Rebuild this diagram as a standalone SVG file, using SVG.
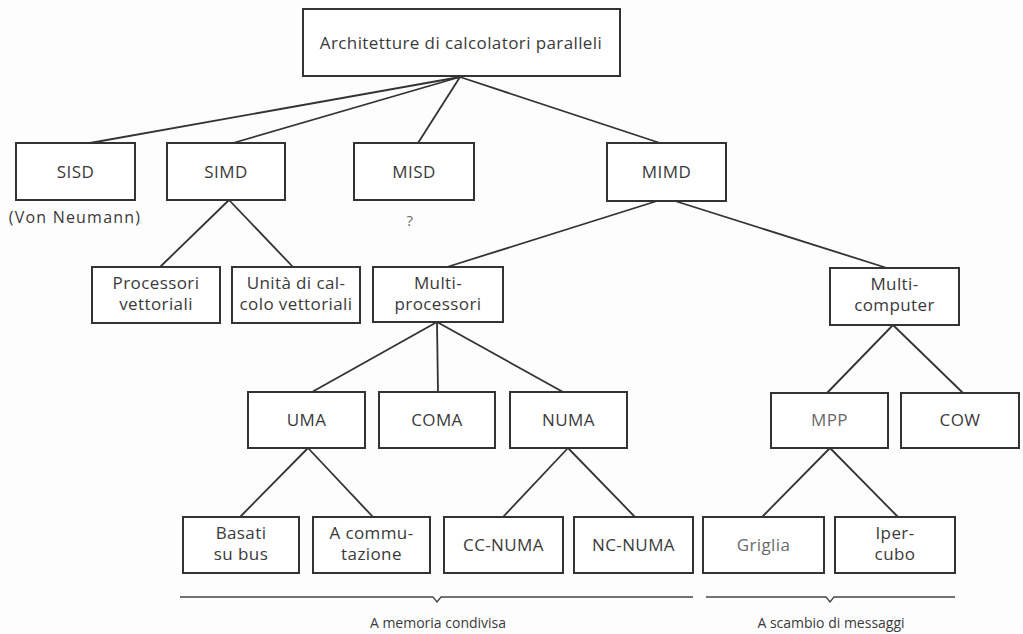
<svg xmlns="http://www.w3.org/2000/svg" width="1023" height="634" viewBox="0 0 1023 634">
<style>
.box{fill:#fff;stroke:#333;stroke-width:2}
.t{font-family:"Open Sans","Liberation Sans",sans-serif;font-size:17px;letter-spacing:0.4px;fill:#3a3a3a;text-anchor:middle}
.lt{fill:#6a6a6a}
.sm{font-size:14px;letter-spacing:0}
.c line{stroke:#333;stroke-width:1.8}
.br{fill:none;stroke:#444;stroke-width:1.3}
</style>
<rect width="1023" height="634" fill="#fdfdfd"/>
<g class="c" id="connectors">
<line x1="460" y1="77" x2="90" y2="143"/>
<line x1="460" y1="77" x2="233" y2="143"/>
<line x1="460" y1="77" x2="418" y2="143"/>
<line x1="460" y1="77" x2="660" y2="143"/>
<line x1="229" y1="200" x2="160" y2="267"/>
<line x1="229" y1="200" x2="293" y2="267"/>
<line x1="657" y1="201" x2="447" y2="267"/>
<line x1="675" y1="201" x2="887" y2="268"/>
<line x1="437" y1="322" x2="312" y2="392"/>
<line x1="437" y1="322" x2="438" y2="392"/>
<line x1="437" y1="322" x2="563" y2="392"/>
<line x1="893" y1="325" x2="827" y2="393"/>
<line x1="893" y1="325" x2="963" y2="393"/>
<line x1="308" y1="448" x2="240" y2="517"/>
<line x1="308" y1="448" x2="373" y2="517"/>
<line x1="568" y1="448" x2="503" y2="517"/>
<line x1="568" y1="448" x2="635" y2="517"/>
<line x1="830" y1="448" x2="762" y2="517"/>
<line x1="830" y1="448" x2="898" y2="517"/>
</g>
<g id="root"><rect class="box" x="303" y="9" width="317" height="67"/><text class="t" x="461" y="49">Architetture di calcolatori paralleli</text></g>
<g id="sisd"><rect class="box" x="16" y="143" width="119" height="57"/><text class="t" x="75.5" y="178">SISD</text></g>
<g id="sisd-note"><text class="t" x="75" y="223" style="font-size:16px;letter-spacing:1.2px">(Von Neumann)</text></g>
<g id="simd"><rect class="box" x="167" y="143" width="118" height="57"/><text class="t" x="226" y="178">SIMD</text></g>
<g id="misd"><rect class="box" x="354" y="143" width="120" height="57"/><text class="t" x="414" y="178">MISD</text></g>
<g id="misd-note"><text class="t lt" x="410" y="226" style="font-size:15px">?</text></g>
<g id="mimd"><rect class="box" x="607" y="143" width="119" height="58"/><text class="t" x="666.5" y="178">MIMD</text></g>
<g id="processori"><rect class="box" x="92" y="267" width="128" height="56"/><text class="t" x="156" y="289">Processori</text><text class="t" x="156" y="310">vettoriali</text></g>
<g id="unita"><rect class="box" x="232" y="267" width="128" height="56"/><text class="t" x="296" y="289">Unità di cal-</text><text class="t" x="296" y="310">colo vettoriali</text></g>
<g id="multiprocessori"><rect class="box" x="373" y="267" width="130" height="55"/><text class="t" x="438" y="289">Multi-</text><text class="t" x="438" y="310">processori</text></g>
<g id="multicomputer"><rect class="box" x="830" y="268" width="129" height="57"/><text class="t" x="894.5" y="290">Multi-</text><text class="t" x="894.5" y="311">computer</text></g>
<g id="uma"><rect class="box" x="248" y="392" width="117" height="56"/><text class="t" x="306.5" y="426">UMA</text></g>
<g id="coma"><rect class="box" x="379" y="392" width="116" height="56"/><text class="t" x="437" y="426">COMA</text></g>
<g id="numa"><rect class="box" x="510" y="392" width="117" height="56"/><text class="t" x="568.5" y="426">NUMA</text></g>
<g id="mpp"><rect class="box" x="771" y="393" width="117" height="55"/><text class="t lt" x="829.5" y="426">MPP</text></g>
<g id="cow"><rect class="box" x="901" y="393" width="118" height="55"/><text class="t" x="960" y="426">COW</text></g>
<g id="basati"><rect class="box" x="183" y="517" width="116" height="56"/><text class="t" x="241" y="539">Basati</text><text class="t" x="241" y="560">su bus</text></g>
<g id="commutazione"><rect class="box" x="313" y="517" width="117" height="56"/><text class="t" x="371.5" y="539">A commu-</text><text class="t" x="371.5" y="560">tazione</text></g>
<g id="ccnuma"><rect class="box" x="444" y="517" width="119" height="56"/><text class="t" x="503.5" y="551">CC-NUMA</text></g>
<g id="ncnuma"><rect class="box" x="574" y="517" width="119" height="56"/><text class="t" x="633.5" y="551">NC-NUMA</text></g>
<g id="griglia"><rect class="box" x="703" y="517" width="121" height="56"/><text class="t lt" x="763.5" y="551">Griglia</text></g>
<g id="ipercubo"><rect class="box" x="835" y="517" width="120" height="56"/><text class="t" x="895" y="539">Iper-</text><text class="t" x="895" y="560">cubo</text></g>
<g id="shared-memory"><path class="br" d="M180,597 L433,597 L437,602 L441,597 L693,597"/><text class="t sm" x="438" y="628">A memoria condivisa</text></g>
<g id="message-passing"><path class="br" d="M706,597 L826,597 L830,602 L834,597 L955,597"/><text class="t sm" x="831" y="628">A scambio di messaggi</text></g>
</svg>
